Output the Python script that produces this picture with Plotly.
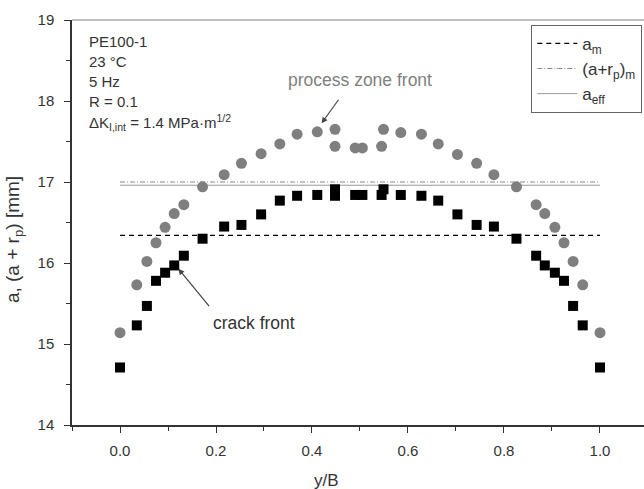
import plotly.graph_objects as go

# ---- data ----
y_over_B = [0.000, 0.035, 0.056, 0.075, 0.094, 0.113, 0.133, 0.172, 0.217, 0.253,
            0.294, 0.333, 0.369, 0.411, 0.448, 0.448, 0.490, 0.505, 0.545, 0.549,
            0.585, 0.628, 0.663, 0.703, 0.743, 0.779, 0.826, 0.867, 0.885, 0.906,
            0.925, 0.944, 0.964, 1.000]
process_zone = [15.14, 15.73, 16.02, 16.25, 16.44, 16.61, 16.72, 16.94, 17.09, 17.23,
                17.35, 17.47, 17.59, 17.62, 17.65, 17.44, 17.42, 17.42, 17.44, 17.65,
                17.61, 17.59, 17.47, 17.34, 17.23, 17.09, 16.94, 16.72, 16.61, 16.44,
                16.25, 16.02, 15.73, 15.14]
crack_front = [14.71, 15.23, 15.47, 15.78, 15.88, 15.97, 16.09, 16.30, 16.45, 16.47,
               16.60, 16.77, 16.83, 16.84, 16.91, 16.83, 16.84, 16.84, 16.84, 16.91,
               16.84, 16.83, 16.77, 16.60, 16.47, 16.45, 16.30, 16.09, 15.97, 15.88,
               15.78, 15.47, 15.23, 14.71]
line_x = [0.0, 1.0]
a_m = 16.34
a_rp_m = 17.00
a_eff = 16.96
x_ticks = [0.0, 0.2, 0.4, 0.6, 0.8, 1.0]
y_ticks = [14, 15, 16, 17, 18, 19]
info_lines = ["PE100-1", "23 °C", "5 Hz", "R = 0.1",
              "ΔK<sub>I,int</sub> = 1.4 MPa·m<sup>1/2</sup>"]
info_y = [18.73, 18.485, 18.24, 17.99, 17.74]

FONT = "Liberation Sans, Arial, sans-serif"
TXT = "#333333"

fig = go.Figure()
fig.add_trace(go.Scatter(x=line_x, y=[a_m, a_m], mode="lines", name="a<sub>m</sub>",
                         line=dict(color="black", width=1.3, dash="5px,4px")))
fig.add_trace(go.Scatter(x=line_x, y=[a_rp_m, a_rp_m], mode="lines",
                         name="(a+r<sub>p</sub>)<sub>m</sub>",
                         line=dict(color="#888888", width=1, dash="5px,2px,1px,2px")))
fig.add_trace(go.Scatter(x=line_x, y=[a_eff, a_eff], mode="lines", name="a<sub>eff</sub>",
                         line=dict(color="#999999", width=1)))
fig.add_trace(go.Scatter(x=y_over_B, y=process_zone, mode="markers", showlegend=False,
                         marker=dict(symbol="circle", size=11, color="#7f7f7f")))
fig.add_trace(go.Scatter(x=y_over_B, y=crack_front, mode="markers", showlegend=False,
                         marker=dict(symbol="square", size=10, color="black")))

ann = []
for t, yy in zip(info_lines, info_y):
    ann.append(dict(x=-0.069, y=yy, xref="x", yref="y", text=t, showarrow=False,
                    xanchor="left", yanchor="middle", font=dict(size=15, color=TXT)))
ann.append(dict(x=0.5, y=18.26, xref="x", yref="y", text="process zone front",
                showarrow=False, font=dict(size=17.5, color="#808080")))
ann.append(dict(x=0.420, y=17.725, xref="x", yref="y", text="", showarrow=True,
                ax=18, ay=-25, arrowhead=2, arrowsize=1, arrowwidth=1.2,
                arrowcolor="#444444"))
ann.append(dict(x=0.280, y=15.26, xref="x", yref="y", text="crack front",
                showarrow=False, font=dict(size=17.5, color=TXT)))
ann.append(dict(x=0.1215, y=15.93, xref="x", yref="y", text="", showarrow=True,
                ax=32, ay=39, arrowhead=2, arrowsize=1, arrowwidth=1.2,
                arrowcolor="#444444"))
ann.append(dict(x=0.431, y=-0.138, xref="x", yref="paper", text="y/B", showarrow=False,
                yanchor="middle", font=dict(size=17, color=TXT)))
ann.append(dict(x=-0.1014, y=0.459, xref="paper", yref="paper",
                text="a, (a + r<sub>p</sub>) [mm]", showarrow=False, textangle=-90,
                xanchor="center", yanchor="middle", font=dict(size=19, color=TXT)))

fig.update_layout(
    width=644, height=489,
    margin=dict(l=72, r=0, t=20, b=64),
    paper_bgcolor="white", plot_bgcolor="white",
    font=dict(family=FONT, color=TXT, size=15),
    annotations=ann,
    legend=dict(x=0.997, xanchor="right", y=0.988, yanchor="top",
                bordercolor="#666666", borderwidth=1, bgcolor="white",
                font=dict(size=17, color=TXT), tracegroupgap=0, itemwidth=40),
    shapes=[dict(type="line", xref="paper", yref="paper", x0=0, x1=1, y0=1, y1=1,
                 line=dict(color="#aaaaaa", width=1.5))],
)
fig.update_xaxes(range=[-0.1, 1.0917], tickvals=x_ticks, tickformat=".1f",
                 ticks="outside", ticklen=6, tickwidth=1.3, tickcolor="#333333",
                 showline=True, linecolor="#333333", linewidth=1.5,
                 showgrid=False, zeroline=False, ticklabelstandoff=5,
                 minor=dict(dtick=0.1, tick0=0, ticks="outside", ticklen=4,
                            tickcolor="#333333", tickwidth=1.3))
fig.update_yaxes(range=[14, 19], tickvals=y_ticks,
                 ticks="outside", ticklen=6, tickwidth=1.3, tickcolor="#333333",
                 showline=True, linecolor="#333333", linewidth=1.5,
                 showgrid=False, zeroline=False, ticklabelstandoff=7,
                 minor=dict(dtick=0.5, tick0=14, ticks="outside", ticklen=4,
                            tickcolor="#333333", tickwidth=1.3))

fig.write_html("out.html")
